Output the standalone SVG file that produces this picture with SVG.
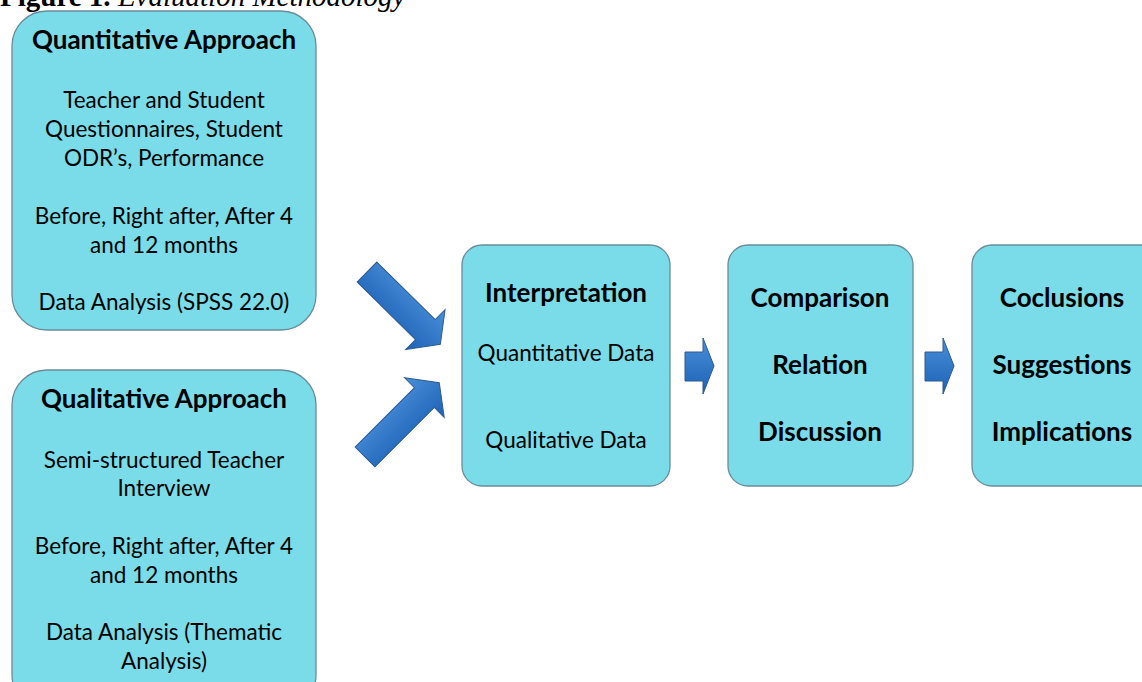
<svg xmlns="http://www.w3.org/2000/svg" width="1142" height="682" viewBox="0 0 1142 682">
<defs>
<linearGradient id="ag" x1="0" y1="0" x2="0" y2="1">
<stop offset="0" stop-color="#4a8fd8"/>
<stop offset="1" stop-color="#1c62b6"/>
</linearGradient>
<style>
.box{fill:#79dce8;stroke:#6a8c9a;stroke-width:1.3}
.arr{fill:url(#ag);stroke:#2d5a94;stroke-width:1}
.h{font-family:Lato,"Liberation Sans",sans-serif;font-weight:bold;font-size:26px;fill:#000;text-anchor:middle}
.t{font-family:Lato,"Liberation Sans",sans-serif;font-size:22.5px;fill:#000;text-anchor:middle}
.ttl{font-family:"Liberation Serif",serif;font-size:29px;fill:#000}
</style>
</defs>
<rect width="1142" height="682" fill="#fff"/>
<text class="ttl" x="0" y="6"><tspan font-weight="bold">Figure 1.</tspan><tspan font-style="italic"> Evaluation Methodology</tspan></text>
<g id="quantitative">
<rect class="box" x="12" y="11" width="304" height="319" rx="35"/>
<text class="h" x="164" y="49">Quantitative Approach</text>
<text class="t" x="164" y="108">Teacher and Student</text>
<text class="t" x="164" y="137">Questionnaires, Student</text>
<text class="t" x="164" y="166">ODR’s, Performance</text>
<text class="t" x="164" y="224">Before, Right after, After 4</text>
<text class="t" x="164" y="253">and 12 months</text>
<text class="t" x="164" y="310">Data Analysis (SPSS 22.0)</text>
</g>
<g id="qualitative">
<rect class="box" x="12" y="370" width="304" height="340" rx="35"/>
<text class="h" x="164" y="408">Qualitative Approach</text>
<text class="t" x="164" y="468">Semi-structured Teacher</text>
<text class="t" x="164" y="496">Interview</text>
<text class="t" x="164" y="554">Before, Right after, After 4</text>
<text class="t" x="164" y="583">and 12 months</text>
<text class="t" x="164" y="640">Data Analysis (Thematic</text>
<text class="t" x="164" y="669">Analysis)</text>
</g>
<g id="interpretation">
<rect class="box" x="462" y="245" width="208" height="241" rx="20"/>
<text class="h" x="566" y="302">Interpretation</text>
<text class="t" x="566" y="361">Quantitative Data</text>
<text class="t" x="566" y="448">Qualitative Data</text>
</g>
<g id="comparison">
<rect class="box" x="728" y="245" width="185" height="241" rx="20"/>
<text class="h" x="820" y="307">Comparison</text>
<text class="h" x="820" y="374">Relation</text>
<text class="h" x="820" y="441">Discussion</text>
</g>
<g id="conclusions">
<rect class="box" x="972" y="245" width="200" height="241" rx="20"/>
<text class="h" x="1062" y="307">Coclusions</text>
<text class="h" x="1062" y="374">Suggestions</text>
<text class="h" x="1062" y="441">Implications</text>
</g>
<g id="connectors">
<path class="arr" transform="translate(367,272) rotate(44.6)" d="M0,-14 L82,-14 L82,-28 L103,0 L82,28 L82,14 L0,14 Z"/>
<path class="arr" transform="translate(365,457) rotate(-45)" d="M0,-14 L84,-14 L84,-28 L105,0 L84,28 L84,14 L0,14 Z"/>
<path class="arr" d="M685,352 L703,352 L703,338 L714,366 L703,394 L703,381 L685,381 Z"/>
<path class="arr" d="M925,352 L943,352 L943,338 L954,366 L943,394 L943,381 L925,381 Z"/>
</g>
</svg>
